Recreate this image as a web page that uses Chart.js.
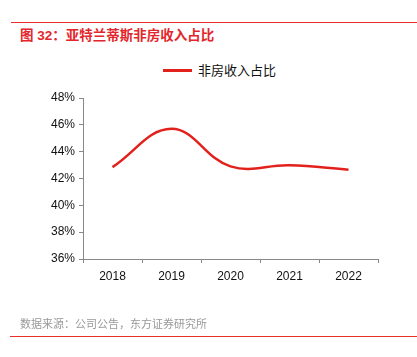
<!DOCTYPE html>
<html><head><meta charset="utf-8">
<script src="https://cdn.jsdelivr.net/npm/chart.js@4"></script>
<style>
html,body{margin:0;padding:0;background:#fff;}
body{width:417px;height:357px;position:relative;overflow:hidden;font-family:"Liberation Sans","Noto Sans CJK SC",sans-serif;}
#wrap{position:absolute;left:0;top:0;width:417px;height:357px;}
.hl{position:absolute;height:1px;background:#e8302a;}
#title{position:absolute;left:20px;top:24px;font-size:13.5px;font-weight:bold;color:#e3262b;font-family:"Liberation Sans","Noto Sans CJK SC",sans-serif;white-space:nowrap;}
#legend{position:absolute;left:163px;top:60px;font-size:13px;color:#111;white-space:nowrap;font-family:"Liberation Sans","Noto Sans CJK SC",sans-serif;}
#legend .sw{display:inline-block;width:29px;height:3px;background:#e3211c;vertical-align:middle;margin-right:6px;position:relative;top:-1px;}
#foot{position:absolute;left:20px;top:315px;font-size:11px;color:#999;font-family:"Noto Sans CJK SC",sans-serif;white-space:nowrap;}
</style></head>
<body>
<div class="hl" style="left:11px;right:0;top:22px;"></div>
<div id="title">图 32：亚特兰蒂斯非房收入占比</div>
<div id="legend"><span class="sw"></span>非房收入占比</div>
<div id="wrap"><canvas id="c" width="417" height="357"></canvas></div>
<div id="foot">数据来源：公司公告，东方证券研究所</div>
<div class="hl" style="left:10px;right:0;top:336px;"></div>
<script>
const categories = ["2018","2019","2020","2021","2022"];
const seriesName = "非房收入占比";
const values = [42.85, 45.7, 42.9, 42.98, 42.66];
const yMin = 36, yMax = 48, yStep = 2;

new Chart(document.getElementById('c'), {
  type: 'line',
  data: { labels: categories, datasets: [{
    label: seriesName, data: values,
    borderColor: '#e3211c', borderWidth: 2.5, tension: 0.4,
    pointRadius: 0, fill: false
  }]},
  options: {
    responsive: false, animation: false,
    layout: { padding: { top: 98, right: 39, bottom: 0, left: 0 } },
    plugins: { legend: { display: false }, tooltip: { enabled: false } },
    scales: {
      x: {
        offset: true,
        grid: { display: true, drawOnChartArea: false, offset: true, tickLength: 4, color: '#888' },
        border: { color: '#888', width: 1 },
        ticks: { color: '#111', font: { size: 12, family: 'Liberation Sans' }, padding: 6 },
        afterFit: s => { s.height = 98; }
      },
      y: {
        min: yMin, max: yMax,
        grid: { display: true, drawOnChartArea: false, tickLength: 4, color: '#888' },
        border: { color: '#888', width: 1 },
        ticks: { stepSize: yStep, color: '#111', font: { size: 12, family: 'Liberation Sans' }, padding: 4,
          callback: v => v + '%' },
        afterFit: s => { s.width = 83; }
      }
    }
  }
});
</script>
</body></html>
